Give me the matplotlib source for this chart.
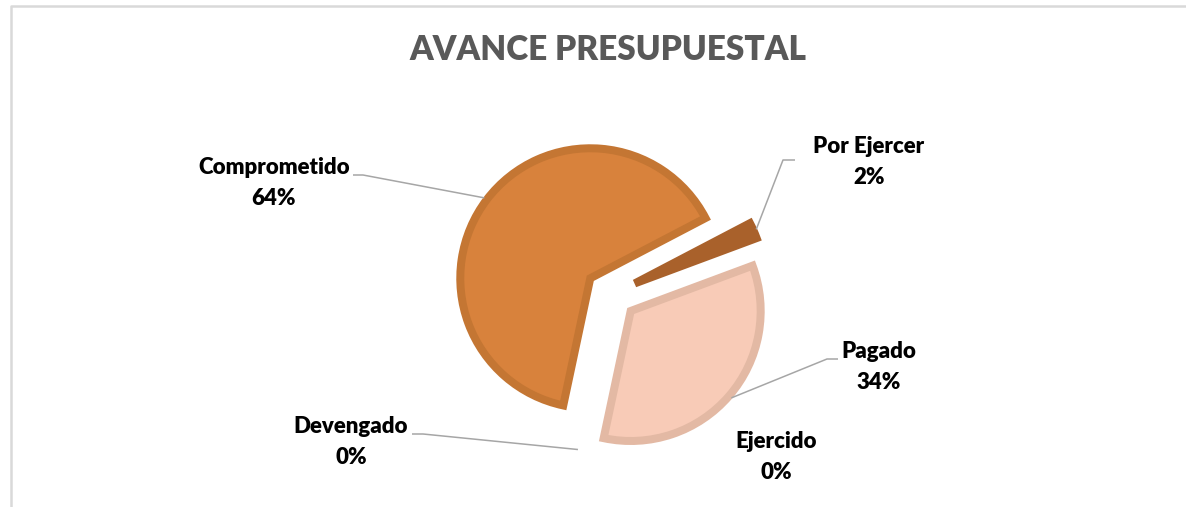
import matplotlib.pyplot as plt
import numpy as np

# canvas size in pixels (dpi 100)
W, H = 1186, 507

categories = ['Comprometido', 'Devengado', 'Ejercido', 'Pagado', 'Por Ejercer']
shares = [64, 0, 0, 34, 2]

fills = ['#D8823C', '#C4782F', '#C4782F', '#F8CBB7', '#A9612B']
edges = ['#C47633', '#C47633', '#C47633', '#E3B9A4', '#A9612B']

# label centre (x, y from top) and leader elbow points, in pixels
label_pos = {'Comprometido': (274, 183), 'Devengado': (351, 442), 'Ejercido': (776, 457),
             'Pagado': (879, 367), 'Por Ejercer': (869, 162)}
leader_elbow = {'Comprometido': [(363, 175), (353, 175)],
                'Devengado': [(423, 434), (412, 434)],
                'Pagado': [(827, 359), (838, 359)],
                'Por Ejercer': [(783, 160), (795, 160)]}

plt.rcParams['font.family'] = ['Lato', 'DejaVu Sans']

fig = plt.figure(figsize=(W / 100, H / 100), dpi=100)
ax = fig.add_axes([0, 0, 1, 1])

lw_px = 8
radius = 130
# matplotlib offsets exploded wedges in data units
wedges, _ = ax.pie(shares, startangle=27.6, counterclock=True,
                   center=(611, H - 294), radius=radius,
                   explode=[0.2 * radius] * len(shares), frame=True,
                   wedgeprops=dict(linewidth=lw_px * 0.72, joinstyle='miter'))
for w, fc, ec, v in zip(wedges, fills, edges, shares):
    w.set_facecolor(fc)
    w.set_edgecolor(ec)
    if v == 0:
        w.set_linewidth(0)

ax.set_xlim(0, W)
ax.set_ylim(0, H)
ax.set_aspect('auto')
ax.axis('off')

# leader lines from the middle of each slice's arc
for w, name in zip(wedges, categories):
    if name not in leader_elbow:
        continue
    mid = np.deg2rad((w.theta1 + w.theta2) / 2)
    cx, cy = w.center
    r = w.r + lw_px / 2 - 1
    pts = [(cx + r * np.cos(mid), cy + r * np.sin(mid))]
    pts += [(x, H - y) for x, y in leader_elbow[name]]
    xs, ys = zip(*pts)
    ax.plot(xs, ys, color='#A6A6A6', lw=1.1, solid_capstyle='butt')

for name, v in zip(categories, shares):
    x, y = label_pos[name]
    ax.text(x, H - y, f'{name}\n{v}%', ha='center', va='center', fontsize=16,
            fontweight='heavy', color='#000000', linespacing=1.6)

ax.text(608, H - 50, 'AVANCE PRESUPUESTAL', ha='center', va='center', fontsize=24,
        fontweight='heavy', color='#595959')

# chart area border (cropped at right and bottom)
ax.plot([11, 11, W + 5], [-5, H - 6, H - 6], color='#D9D9D9', lw=1.8, clip_on=False)

fig.savefig('out.png', dpi=100)
